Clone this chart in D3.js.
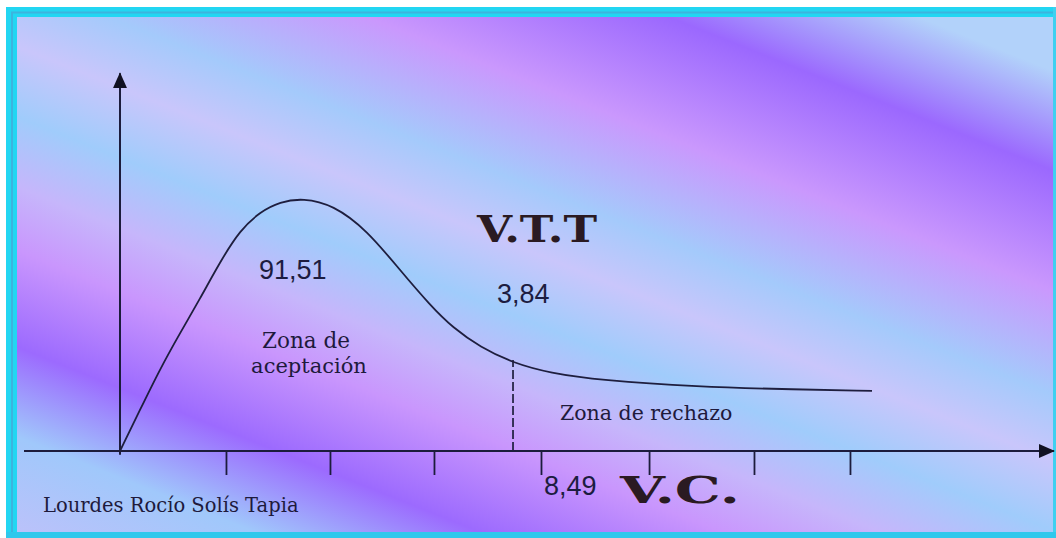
<html>

<head>
    <meta charset="UTF-8">
    <title>V.T.T / V.C.</title>
    <style>
        body {
            margin: 0;
            background: #fff;
        }

        .num {
            font: 27px "Liberation Sans", Arial, sans-serif;
            fill: #1c1c40;
        }

        .serif {
            font: 20.5px "DejaVu Serif", serif;
            fill: #1e1a3c;
        }

        .big {
            font: bold 38px "DejaVu Serif", serif;
            fill: #2a1a22;
        }

        .axis .domain {
            display: none;
        }

        .axis .tick line {
            stroke: #1c1c3c;
            stroke-width: 1.8;
        }
    </style>

    <script src="https://d3js.org/d3.v7.min.js"></script>
</head>

<body>
    <script type="text/javascript">
        // curve: x in tick units, y in % of the axis height
        var curveX = [0, 0.192, 0.385, 0.577, 0.769, 0.962, 1.154, 1.346, 1.538, 1.76, 2.048, 2.375, 2.692, 2.981, 3.202, 3.462, 3.779, 4.135, 4.615, 5.577, 6.346, 7.231]
        var curveY = [0, 11.0, 22.0, 31.6, 40.8, 50.7, 59.2, 64.1, 66.8, 67.8, 66.0, 59.2, 48.5, 39.1, 33.0, 27.9, 23.6, 20.9, 19.0, 17.2, 16.6, 16.1]

        // ticks under the x axis (no labels)
        var tickVals = [1.019, 2.019, 3.019, 4.048, 5.087, 6.096, 7.019]

        // critical value, where the dashed line sits
        var critX = 3.779

        var labels = ["91,51", "3,84", "8,49"]
        var axisNames = ["V.T.T", "V.C."]
        var zoneLabels = ["Zona de", "aceptación", "Zona de rechazo"]
        var author = "Lourdes Rocío Solís Tapia"

        var W = 1056, H = 538

        var x = d3.scaleLinear().domain([0, 1]).range([120, 224])
        var y = d3.scaleLinear().domain([0, 100]).range([451, 78])

        var svg = d3.select("body").append("svg")
            .attr("width", W)
            .attr("height", H)
            .style("display", "block")

        var defs = svg.append("defs")

        // diagonal streaks of the background
        var grad = defs.append("linearGradient")
            .attr("id", "bg")
            .attr("gradientUnits", "userSpaceOnUse")
            .attr("x1", 0).attr("y1", -350)
            .attr("x2", -310).attr("y2", 426)
        var stops = [
            [0, "#b2d2fa"], [0.111, "#9b68fe"], [0.245, "#ca98fd"], [0.36, "#a4cafb"],
            [0.433, "#c9c6fb"], [0.511, "#a0ccfb"], [0.589, "#c6b6fb"], [0.66, "#c996fd"],
            [0.767, "#9c6afe"], [0.867, "#a0c8fb"], [1, "#c2c0fa"]
        ]
        grad.selectAll("stop").data(stops).enter().append("stop")
            .attr("offset", function (d) { return d[0] })
            .attr("stop-color", function (d) { return d[1] })

        defs.append("marker")
            .attr("id", "arrow")
            .attr("viewBox", "0 0 16 14")
            .attr("refX", 15).attr("refY", 7)
            .attr("markerWidth", 16).attr("markerHeight", 14)
            .attr("markerUnits", "userSpaceOnUse")
            .attr("orient", "auto")
            .append("path")
            .attr("d", "M0,0 L16,7 L0,14 Z")
            .attr("fill", "#111122")

        // frame
        svg.append("rect")
            .attr("x", 6).attr("y", 7)
            .attr("width", W).attr("height", H)
            .attr("fill", "#22d6f2")
        svg.append("rect")
            .attr("x", 12).attr("y", 12.5)
            .attr("width", W).attr("height", H)
            .attr("fill", "none")
            .attr("stroke", "#3cb4de")
            .attr("stroke-width", 2)
        svg.append("rect")
            .attr("x", 17).attr("y", 17)
            .attr("width", 1036).attr("height", 515)
            .attr("fill", "url(#bg)")
        svg.append("rect")
            .attr("x", 1053).attr("y", 7)
            .attr("width", 3).attr("height", H)
            .attr("fill", "#3fd0f0")
        svg.append("rect")
            .attr("x", 6).attr("y", 532)
            .attr("width", W).attr("height", 6)
            .attr("fill", "#2fc8ec")

        // ticks
        svg.append("g")
            .attr("class", "axis")
            .attr("transform", "translate(0," + y(0) + ")")
            .call(d3.axisBottom(x)
                .tickValues(tickVals)
                .tickSize(24)
                .tickFormat(function () { return "" }))

        // axes with arrow heads
        svg.append("line")
            .attr("x1", x(-0.923)).attr("y1", y(0))
            .attr("x2", x(8.98)).attr("y2", y(0))
            .attr("stroke", "#1c1c3c").attr("stroke-width", 2)
            .attr("marker-end", "url(#arrow)")
        svg.append("line")
            .attr("x1", x(0)).attr("y1", y(-1))
            .attr("x2", x(0)).attr("y2", y(101.3))
            .attr("stroke", "#1c1c3c").attr("stroke-width", 2)
            .attr("marker-end", "url(#arrow)")

        // the curve
        var pts = curveX.map(function (d, i) { return [d, curveY[i]] })
        var line = d3.line()
            .x(function (d) { return x(d[0]) })
            .y(function (d) { return y(d[1]) })
            .curve(d3.curveBasis)
        svg.append("path")
            .datum(pts)
            .attr("d", line)
            .attr("fill", "none")
            .attr("stroke", "#1e1e3e")
            .attr("stroke-width", 1.8)

        // dashed line at the critical value
        svg.append("line")
            .attr("x1", x(critX)).attr("y1", y(0))
            .attr("x2", x(critX)).attr("y2", y(24.4))
            .attr("stroke", "#1e1e3e").attr("stroke-width", 1.7)
            .attr("stroke-dasharray", "9,3")

        // texts
        svg.append("text").attr("class", "num").attr("x", 259).attr("y", 279).text(labels[0])
        svg.append("text").attr("class", "num").attr("x", 497).attr("y", 303).text(labels[1])
        svg.append("text").attr("class", "num").attr("x", 544).attr("y", 495).text(labels[2])

        svg.append("text").attr("class", "big").attr("x", 477).attr("y", 242)
            .attr("textLength", 120).attr("lengthAdjust", "spacingAndGlyphs").text(axisNames[0])
        svg.append("text").attr("class", "big").attr("x", 620).attr("y", 503)
            .attr("textLength", 120).attr("lengthAdjust", "spacingAndGlyphs").text(axisNames[1])

        svg.append("text").attr("class", "serif").attr("x", 306).attr("y", 348)
            .attr("text-anchor", "middle").style("font-size", "21.5px").text(zoneLabels[0])
        svg.append("text").attr("class", "serif").attr("x", 309).attr("y", 373)
            .attr("text-anchor", "middle").style("font-size", "21px").text(zoneLabels[1])
        svg.append("text").attr("class", "serif").attr("x", 560).attr("y", 420).text(zoneLabels[2])

        svg.append("text").attr("class", "serif").attr("x", 43).attr("y", 512)
            .style("font-size", "19.5px").text(author)
    </script>
</body>

</html>
